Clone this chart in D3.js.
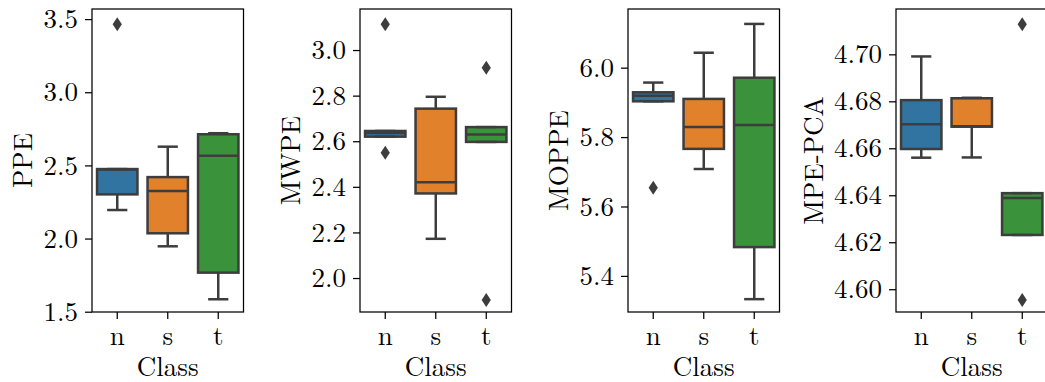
<!DOCTYPE html>
<html>
<head>
<meta charset="utf-8">
<script src="https://cdn.jsdelivr.net/npm/d3@7"></script>
<style>
  html, body { margin: 0; padding: 0; background: #fff; }
  svg { display: block; }
</style>
</head>
<body>
<div id="chart"></div>
<script>
let W = 1045;
let H = 382;

// class categories, same for every panel
const classes = ["n", "s", "t"];
const colors = ["#3274a1", "#e1812c", "#3a923a"];

// box stats per class: [lower whisker, q1, median, q3, upper whisker]
const ppeBoxes = [
  [2.195, 2.302, 2.472, 2.475, 2.475],
  [1.947, 2.036, 2.325, 2.420, 2.628],
  [1.585, 1.767, 2.566, 2.713, 2.720]
];
const ppeOutliers = [[3.464], [], []];

const mwpeBoxes = [
  [2.620, 2.620, 2.636, 2.645, 2.645],
  [2.172, 2.371, 2.420, 2.743, 2.795],
  [2.597, 2.597, 2.630, 2.662, 2.662]
];
const mwpeOutliers = [[3.113, 2.549], [], [2.922, 1.904]];

const moppeBoxes = [
  [5.903, 5.903, 5.919, 5.929, 5.957],
  [5.708, 5.766, 5.829, 5.910, 6.043],
  [5.333, 5.483, 5.835, 5.971, 6.126]
];
const moppeOutliers = [[5.654], [], []];

const mpeBoxes = [
  [4.6560, 4.6597, 4.6702, 4.6805, 4.6991],
  [4.6561, 4.6692, 4.6694, 4.6813, 4.6815],
  [4.6231, 4.6231, 4.6388, 4.6409, 4.6409]
];
const mpeOutliers = [[], [], [4.7128, 4.5954]];

// tick values per panel
const ppeTicks = [1.5, 2.0, 2.5, 3.0, 3.5];
const mwpeTicks = [2.0, 2.2, 2.4, 2.6, 2.8, 3.0];
const moppeTicks = [5.4, 5.6, 5.8, 6.0];
const mpeTicks = [4.60, 4.62, 4.64, 4.66, 4.68, 4.70];

const panels = [
  { label: "PPE", boxes: ppeBoxes, outliers: ppeOutliers, ticks: ppeTicks, lim: [1.498, 3.569], fmt: ".1f" },
  { label: "MWPE", boxes: mwpeBoxes, outliers: mwpeOutliers, ticks: mwpeTicks, lim: [1.851, 3.180], fmt: ".1f" },
  { label: "MOPPE", boxes: moppeBoxes, outliers: moppeOutliers, ticks: moppeTicks, lim: [5.296, 6.169], fmt: ".1f" },
  { label: "MPE-PCA", boxes: mpeBoxes, outliers: mpeOutliers, ticks: mpeTicks, lim: [4.5903, 4.7193], fmt: ".2f" }
];

// panel frames (left edges), shared top/bottom
const lefts = [92, 360, 628, 896];
const pw = 151.5;
const topY = 9;
const bottomY = 312;
const gray = "#3d3d3d";
const lw = 2.5;
const fontSize = 27;
const font = "'Latin Modern Roman', 'Liberation Serif', serif";

var svg = d3.select("#chart").append("svg").attr("width", W).attr("height", H)
  .attr("font-family", font);

panels.forEach(function (p, pi) {
  const g = svg.append("g").attr("transform", "translate(" + lefts[pi] + "," + topY + ")");
  const ph = bottomY - topY;

  const x = d3.scaleBand().domain(classes).range([0, pw]).padding(0);
  const y = d3.scaleLinear().domain(p.lim).range([ph, 0]);
  const bw = x.bandwidth() * 0.8;

  // y axis
  const yAxis = g.append("g")
    .call(d3.axisLeft(y).tickValues(p.ticks).tickFormat(d3.format(p.fmt)).tickSize(7).tickSizeOuter(0).tickPadding(7))
    .attr("font-family", font);
  yAxis.select(".domain").remove();
  yAxis.selectAll("line").attr("stroke", "#000").attr("stroke-width", 1.25);
  yAxis.selectAll("text").attr("font-size", fontSize).attr("font-family", font).attr("fill", "#000").attr("dy", "0.32em");

  // x axis
  const xAxis = g.append("g").attr("transform", "translate(0," + ph + ")")
    .call(d3.axisBottom(x).tickSize(7).tickSizeOuter(0).tickPadding(7))
    .attr("font-family", font);
  xAxis.select(".domain").remove();
  xAxis.selectAll("line").attr("stroke", "#000").attr("stroke-width", 1.25);
  xAxis.selectAll("text").attr("font-size", fontSize).attr("font-family", font).attr("fill", "#000").attr("dy", "0.71em");

  // boxes
  const boxG = g.selectAll("g.box").data(p.boxes).enter().append("g").attr("class", "box");
  boxG.each(function (d, i) {
    const cx = x(classes[i]) + x.bandwidth() / 2;
    const s = d3.select(this);
    s.append("rect")
      .attr("x", cx - bw / 2).attr("width", bw)
      .attr("y", y(d[3])).attr("height", Math.max(0, y(d[1]) - y(d[3])))
      .attr("fill", colors[i]).attr("stroke", gray).attr("stroke-width", lw);
    // whiskers
    s.append("line").attr("x1", cx).attr("x2", cx).attr("y1", y(d[1])).attr("y2", y(d[0]))
      .attr("stroke", gray).attr("stroke-width", lw);
    s.append("line").attr("x1", cx).attr("x2", cx).attr("y1", y(d[3])).attr("y2", y(d[4]))
      .attr("stroke", gray).attr("stroke-width", lw);
    // caps
    [d[0], d[4]].forEach(function (v) {
      s.append("line").attr("x1", cx - bw / 4).attr("x2", cx + bw / 4).attr("y1", y(v)).attr("y2", y(v))
        .attr("stroke", gray).attr("stroke-width", lw);
    });
    // median
    s.append("line").attr("x1", cx - bw / 2).attr("x2", cx + bw / 2).attr("y1", y(d[2])).attr("y2", y(d[2]))
      .attr("stroke", gray).attr("stroke-width", lw);
    // outliers
    s.selectAll("path.flier").data(p.outliers[i]).enter().append("path")
      .attr("class", "flier")
      .attr("d", "M0,-7L4.6,0L0,7L-4.6,0Z")
      .attr("transform", function (v) { return "translate(" + cx + "," + y(v) + ")"; })
      .attr("fill", gray);
  });

  // frame
  g.append("rect").attr("width", pw).attr("height", ph)
    .attr("fill", "none").attr("stroke", "#000").attr("stroke-width", 1.25);

  // y label, placed left of the widest tick label
  let minX = 0;
  yAxis.selectAll("text").each(function () {
    minX = Math.min(minX, this.getBBox().x);
  });
  g.append("text")
    .attr("transform", "translate(" + (minX - 11) + "," + (ph / 2) + ") rotate(-90)")
    .attr("text-anchor", "middle")
    .attr("font-size", fontSize)
    .attr("font-family", font)
    .text(p.label);

  // x label
  g.append("text")
    .attr("x", pw / 2).attr("y", ph + 64)
    .attr("text-anchor", "middle")
    .attr("font-size", fontSize)
    .attr("font-family", font)
    .text("Class");
});
</script>
</body>
</html>
